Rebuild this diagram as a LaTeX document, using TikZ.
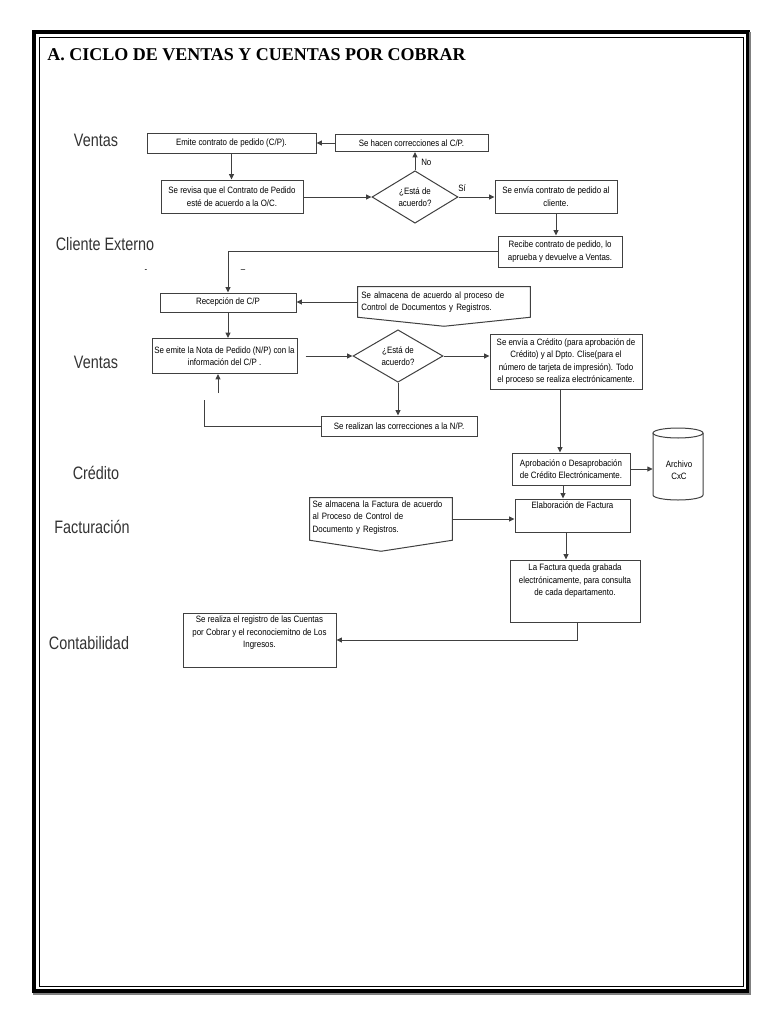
\documentclass[tikz,border=0pt]{standalone}
\usepackage{fontspec}
\setmainfont{Liberation Sans}
\newfontfamily\titlefont{Liberation Serif}
\newfontfamily\narrowfont[FakeStretch=0.86]{Liberation Sans}
\newfontfamily\lanefont[FakeStretch=0.8]{Liberation Sans}
\usetikzlibrary{arrows.meta,shapes.geometric,calc}
\definecolor{ln}{gray}{0.25}
\definecolor{lane}{gray}{0.2}
\begin{document}
\begin{tikzpicture}[x=0.75pt,y=-0.75pt,
  boxfont/.style={font=\narrowfont\fontsize{6.9}{9.4}\selectfont},
  box/.style={draw=ln, line width=0.75pt, fill=white, inner sep=1pt, align=center, boxfont},
  plain/.style={inner sep=1pt, align=center, boxfont},
  doc/.style={inner sep=2pt, align=left, boxfont},
  dia/.style={diamond, draw=ln, line width=0.75pt, fill=white, inner sep=0pt, align=center, boxfont},
  arr/.style={draw=ln, line width=0.75pt, -{Triangle[length=4pt,width=3.6pt]}},
  con/.style={draw=ln, line width=0.75pt},
  lanelbl/.style={text=lane, font=\lanefont\fontsize{13.5}{15}\selectfont, inner sep=0pt},
  lbl/.style={inner sep=0pt, boxfont}
]
\useasboundingbox (0,0) rectangle (768,1024);
% frame
\draw[line width=2.6pt, black] (34,32) rectangle (748,991);
\draw[line width=0.6pt, black] (39,37) rectangle (743,986);
\draw[line width=1pt, gray] (33,994) -- (750,994) -- (750,32);
% title
\node[anchor=west, inner sep=0pt, font=\titlefont\bfseries\fontsize{13.5}{15}\selectfont] (title) at (47,55) {A. CICLO DE VENTAS Y CUENTAS POR COBRAR};
% lane labels
\node[lanelbl] (L1) at (96,140) {Ventas};
\node[lanelbl] (L2) at (105,244) {Cliente Externo};
\node[lanelbl] (L3) at (96,362) {Ventas};
\node[lanelbl] (L4) at (96,473) {Crédito};
\node[lanelbl] (L5) at (92,527) {Facturación};
\node[lanelbl] (L6) at (89,643) {Contabilidad};
% stray marks
\node[lbl] (m1) at (146,271) {-};
\node[lbl] (m2) at (243,271) {–};
% boxes
\node[box, minimum width=126.75pt, minimum height=15pt] (n1) at (231.5,143) {Emite contrato de pedido (C/P).};
\node[box, minimum width=114.75pt, minimum height=12.75pt] (n2) at (411.5,143) {Se hacen correcciones al C/P.};
\node[box, minimum width=106.5pt, minimum height=24.75pt] (n3) at (232,196.5) {Se revisa que el Contrato de Pedido\\esté de acuerdo a la O/C.};
\node[dia, minimum width=64.5pt, minimum height=37.5pt] (d1) at (415,197) {¿Está de\\acuerdo?};
\node[box, minimum width=91.5pt, minimum height=24.75pt] (n4) at (556,196.5) {Se envía contrato de pedido al\\cliente.};
\node[box, minimum width=93pt, minimum height=23.25pt] (n5) at (560,251.5) {Recibe contrato de pedido, lo\\aprueba y devuelve a Ventas.};
\node[box, minimum width=102pt, minimum height=14.25pt] (n6) at (228,302.5) {Recepción de C/P};
\node[doc, minimum width=129pt, minimum height=22.5pt, text width=124pt] (n7) at (444,302) {};
\draw[con, fill=white] (n7.north west) -- (n7.north east) -- (n7.south east) -- ($(n7.south)+(0,9)$) -- (n7.south west) -- cycle;
\node[doc, text width=124pt] (n7t) at (444,302) {Se almacena de acuerdo al proceso de\\Control de Documentos y Registros.};
\node[box, minimum width=108.75pt, minimum height=26.25pt] (n8) at (224.5,356) {Se emite la Nota de Pedido (N/P) con la\\información del C/P .};
\node[dia, minimum width=67.5pt, minimum height=34.5pt] (d2) at (398,356) {¿Está de\\acuerdo?};
\node[box, minimum width=114pt, minimum height=41.25pt] (n9) at (566,361.5) {Se envía a Crédito (para aprobación de\\Crédito) y al Dpto. Clise(para el\\número de tarjeta de impresión). Todo\\el proceso se realiza electrónicamente.};
\node[box, minimum width=117pt, minimum height=15pt] (n10) at (399,426) {Se realizan las correcciones a la N/P.};
\node[box, minimum width=88.5pt, minimum height=24pt] (n11) at (571,469) {Aprobación o Desaprobación\\de Crédito Electrónicamente.};
% cylinder
\node[inner sep=0pt, minimum width=37.5pt, minimum height=54pt] (cyl) at (678,464) {};
\draw[con, fill=white] (653,433) -- (653,495) arc[start angle=180, end angle=0, x radius=25, y radius=5] -- (703,433);
\draw[con, fill=white] (678,433) ellipse [x radius=25, y radius=5];
\node[plain] (cylt) at (679,470) {Archivo\\CxC};
\node[box, minimum width=86.25pt, minimum height=24.75pt] (n12) at (572.5,515.5) {};
\node[plain, anchor=north] (n12t) at ($(n12.north)+(0,2)$) {Elaboración de Factura};
\node[doc, minimum width=106.5pt, minimum height=31.5pt, text width=102pt] (n14) at (381,519) {};
\draw[con, fill=white] (n14.north west) -- (n14.north east) -- (n14.south east) -- ($(n14.south)+(0,11)$) -- (n14.south west) -- cycle;
\node[doc, text width=102pt, anchor=north west] (n14t) at ($(n14.north west)+(0,0)$) {Se almacena la Factura de acuerdo\\al Proceso de Control de\\Documento y Registros.};
\node[box, minimum width=97.5pt, minimum height=46.5pt] (n13) at (575,591) {};
\node[plain, anchor=north] (n13t) at ($(n13.north)+(0,3)$) {La Factura queda grabada\\electrónicamente, para consulta\\de cada departamento.};
\node[box, minimum width=114.75pt, minimum height=40.5pt] (n15) at (259.5,640) {};
\node[plain, anchor=north] (n15t) at ($(n15.north)+(0,2)$) {Se realiza el registro de las Cuentas\\por Cobrar y el reconociemitno de Los\\Ingresos.};
% connectors
\draw[arr] (n2.west) -- (n1.east);
\draw[arr] (d1.north) -- (d1.north |- n2.south);
\node[lbl, anchor=west] (no) at (421,162) {No};
\draw[arr] (n1.south) -- (n1.south |- n3.north);
\draw[arr] (n3.east |- d1.west) -- (d1.west);
\draw[arr] (d1.east) -- (d1.east -| n4.west);
\node[lbl] (si) at (462,188) {Sí};
\draw[arr] (n4.south) -- (n4.south |- n5.north);
\draw[arr] (n5.west) -| (n6.north);
\draw[arr] (n7.west) -- (n7.west -| n6.east);
\draw[arr] (n6.south) -- (n6.south |- n8.north);
\draw[arr, shorten <=6pt] (n8.east |- d2.west) -- (d2.west);
\draw[arr] (d2.east) -- (d2.east -| n9.west);
\draw[arr] (d2.south) -- (d2.south |- n10.north);
\coordinate (lp) at (204,400);
\draw[con] (n10.west) -| (lp);
\coordinate (la) at (218,393);
\draw[arr] (la) -- (la |- n8.south);
\coordinate (c1) at ($(n9.south)+(-6,0)$);
\draw[arr] (c1) -- (c1 |- n11.north);
\draw[arr] (n11.east) -- (n11.east -| cyl.west);
\coordinate (c2) at ($(n11.south)+(-8,0)$);
\draw[arr] (c2) -- (c2 |- n12.north);
\draw[arr] (n14.east) -- (n14.east -| n12.west);
\coordinate (c3) at ($(n12.south)+(-6.5,0)$);
\draw[arr] (c3) -- (c3 |- n13.north);
\coordinate (c4) at ($(n13.south)+(2,0)$);
\draw[arr] (c4) |- (n15.east);
\end{tikzpicture}
\end{document}
